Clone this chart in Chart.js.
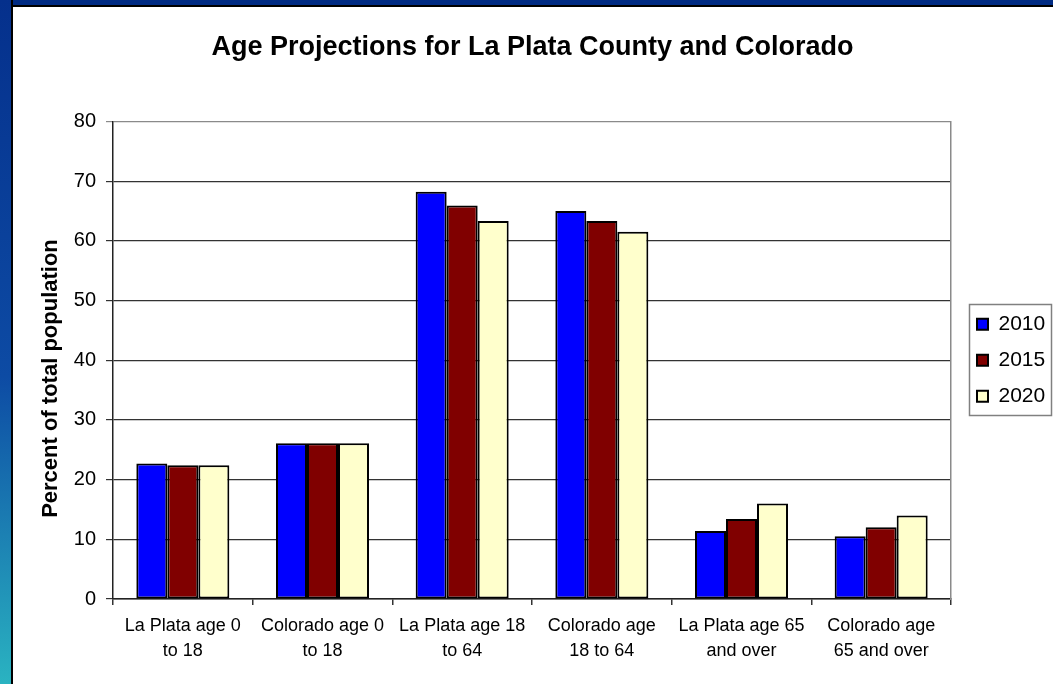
<!DOCTYPE html>
<html>
<head>
<meta charset="utf-8">
<script src="https://cdn.jsdelivr.net/npm/chart.js@4"></script>
<style>
    html, body { margin: 0; padding: 0; width: 1053px; height: 684px; overflow: hidden; background: #fff; }
    #topBand { position: absolute; left: 0; top: 0; width: 1053px; height: 5px; background: #002b83; border-bottom: 2px solid #000; }
    #leftBand { position: absolute; left: 0; top: 0; width: 11px; height: 684px;
        background: linear-gradient(to bottom, #05308c 0%, #0d4ba4 55%, #2ab3c1 100%); border-right: 2px solid #000; }
    #wrap { position: absolute; left: 13px; top: 7px; width: 1040px; height: 677px; background: #fff; }
</style>
</head>
<body>
<div id="topBand"></div>
<div id="leftBand"></div>
<div id="wrap"><canvas id="ageChart" width="1040" height="677"></canvas></div>
<script>
    // chart data
    const categories = [
        ["La Plata age 0", "to 18"],
        ["Colorado age 0", "to 18"],
        ["La Plata age 18", "to 64"],
        ["Colorado age", "18 to 64"],
        ["La Plata age 65", "and over"],
        ["Colorado age", "65 and over"]
    ];
    const years = ["2010", "2015", "2020"];
    const values2010 = [22.7, 26.1, 68.2, 65.0, 11.4, 10.5];
    const values2015 = [22.4, 26.1, 65.9, 63.3, 13.4, 12.0];
    const values2020 = [22.4, 26.1, 63.3, 61.5, 16.0, 14.0];
    const yTicks = [0, 10, 20, 30, 40, 50, 60, 70, 80];

    const fontFamily = '"Liberation Sans", Arial, sans-serif';
    Chart.defaults.font.family = fontFamily;
    Chart.defaults.color = "#000";

    // gray frame around the legend, like the Excel original
    const legendFrame = {
        id: "legendFrame",
        afterDraw(chart) {
            const boxes = chart.legend && chart.legend.legendHitBoxes;
            if (!boxes || !boxes.length) return;
            const left = Math.min(...boxes.map(b => b.left)) - 8;
            const right = Math.max(...boxes.map(b => b.left + b.width)) + 6;
            const top = Math.min(...boxes.map(b => b.top)) - 10;
            const bottom = Math.max(...boxes.map(b => b.top + b.height)) + 8;
            const ctx = chart.ctx;
            ctx.save();
            ctx.strokeStyle = "#808080";
            ctx.lineWidth = 1.5;
            ctx.strokeRect(Math.round(left) + 0.5, Math.round(top) + 0.5, Math.round(right - left), Math.round(bottom - top));
            ctx.restore();
        }
    };

    function makeDataset(label, data, color) {
        return {
            label: label,
            data: data,
            backgroundColor: color,
            borderColor: "#000",
            borderWidth: 2,
            borderSkipped: false,
            categoryPercentage: 0.666,
            barPercentage: 1.0
        };
    }

    new Chart(document.getElementById("ageChart"), {
        type: "bar",
        data: {
            labels: categories,
            datasets: [
                makeDataset(years[0], values2010, "#0000ff"),
                makeDataset(years[1], values2015, "#800000"),
                makeDataset(years[2], values2020, "#ffffcc")
            ]
        },
        options: {
            responsive: false,
            animation: false,
            layout: { padding: { top: 0, right: 1, bottom: 11, left: 0 } },
            scales: {
                x: {
                    grid: { drawOnChartArea: false, drawTicks: true, tickLength: 6, color: "#333", lineWidth: 1.5 },
                    border: { display: true, color: "#222", width: 1.5 },
                    ticks: {
                        autoSkip: false, maxRotation: 0, minRotation: 0, padding: 9,
                        font: { size: 18, lineHeight: 25 / 18 }, color: "#000"
                    }
                },
                y: {
                    min: yTicks[0],
                    max: yTicks[yTicks.length - 1],
                    afterBuildTicks: scale => { scale.ticks = yTicks.map(v => ({ value: v })); },
                    afterFit: scale => { scale.width = 100; },
                    grid: {
                        color: ctx => (ctx.tick && ctx.tick.value === 80) ? "#8a8a8a" : "#333",
                        lineWidth: 1.2, tickLength: 7
                    },
                    border: { display: true, color: "#222", width: 1.5 },
                    ticks: { padding: 10, font: { size: 20 }, color: "#000" },
                    title: {
                        display: true,
                        text: "Percent of total population\u00a0\u00a0\u00a0\u00a0\u00a0\u00a0",
                        font: { size: 22, weight: "bold" },
                        color: "#000",
                        padding: { top: 25, bottom: 0 }
                    }
                },
                yRight: {
                    position: "right",
                    display: true,
                    afterFit: scale => { scale.width = 11; },
                    grid: { drawOnChartArea: false, drawTicks: false },
                    border: { display: true, color: "#8a8a8a", width: 1.5 },
                    ticks: { display: false }
                }
            },
            plugins: {
                title: {
                    display: true,
                    text: "Age Projections for La Plata County and Colorado",
                    font: { size: 27, weight: "bold" },
                    color: "#000",
                    padding: { top: 24, bottom: 58 }
                },
                legend: {
                    position: "right",
                    fullSize: false,
                    maxWidth: 90,
                    labels: {
                        boxWidth: 11,
                        boxHeight: 11,
                        padding: 15,
                        font: { size: 21 },
                        color: "#000"
                    }
                },
                tooltip: { enabled: false }
            }
        },
        plugins: [legendFrame]
    });
</script>
</body>
</html>
